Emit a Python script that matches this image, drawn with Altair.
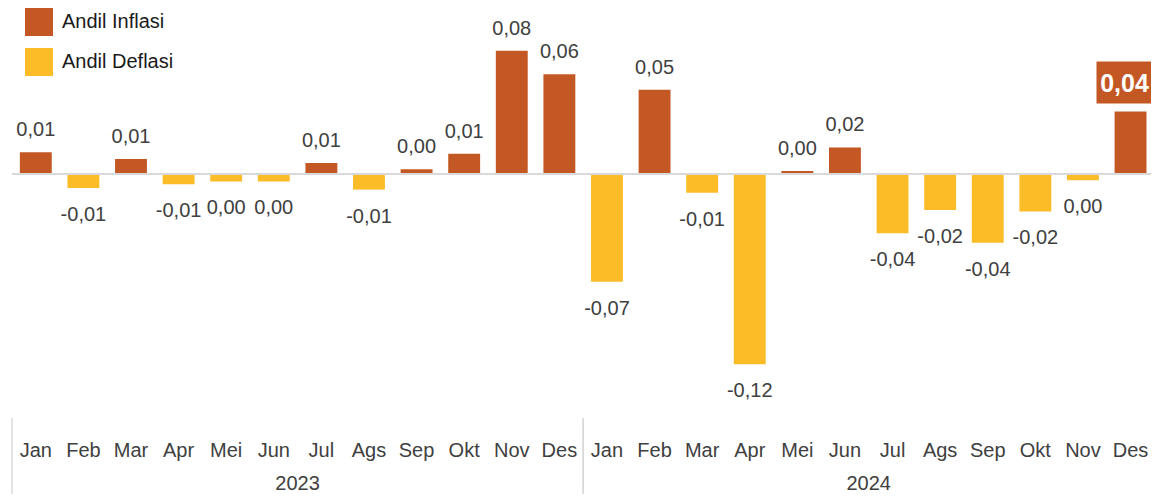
import altair as alt
import pandas as pd

months = ["Jan", "Feb", "Mar", "Apr", "Mei", "Jun", "Jul", "Ags", "Sep", "Okt", "Nov", "Des"]
years = ["2023", "2024"]
andil_2023 = [0.014, -0.009, 0.0096, -0.0065, -0.0048, -0.0048, 0.007, -0.010, 0.003, 0.013, 0.079, 0.064]
andil_2024 = [-0.069, 0.054, -0.012, -0.122, 0.002, 0.017, -0.038, -0.023, -0.044, -0.024, -0.004, 0.040]
series_names = ["Andil Inflasi", "Andil Deflasi"]
series_colors = ["#C45824", "#FBBC28"]

rows = []
for yi, (yr, vals) in enumerate(zip(years, [andil_2023, andil_2024])):
    for mi, (m, v) in enumerate(zip(months, vals)):
        rows.append({"i": yi * 12 + mi, "bulan": m, "tahun": yr, "v": v})
df = pd.DataFrame(rows)

F = "Liberation Sans, Arial, sans-serif"
TXT = "#404040"
W, H = 1139, 486
xs = alt.Scale(domain=[-0.5, 23.43], nice=False, zero=False)
ys = alt.Scale(domain=[-0.20513, 0.10641], nice=False, zero=False)

base = alt.Chart(df)

bars = base.transform_calculate(
    x1="datum.i - 0.335", x2="datum.i + 0.335",
    jenis="datum.v >= 0 ? 'Andil Inflasi' : 'Andil Deflasi'"
).mark_bar().encode(
    x=alt.X("x1:Q", scale=xs, axis=None),
    x2="x2:Q",
    y=alt.Y("v:Q", scale=ys, axis=None),
    y2=alt.datum(0),
    color=alt.Color("jenis:N", scale=alt.Scale(domain=series_names, range=series_colors),
                    legend=alt.Legend(orient="none", legendX=13, legendY=0, title=None,
                                      symbolType="square", symbolSize=784, symbolStrokeWidth=0,
                                      symbolOpacity=1, labelFontSize=20, labelFont=F,
                                      labelColor="#1a1a1a", rowPadding=12, labelOffset=9)),
)

zero = base.transform_aggregate(n="count()").mark_rule(color="#d9d9d9", strokeWidth=2).encode(
    y=alt.datum(0, scale=ys)
)

seps = base.transform_aggregate(a="min(i)", b="max(i)", groupby=["tahun"]).transform_calculate(
    lo="datum.a - 0.5", hi="datum.b + 0.5"
).transform_fold(["lo", "hi"]).mark_rule(color="#d9d9d9", strokeWidth=1.5).encode(
    x=alt.X("value:Q", scale=xs), y=alt.value(410), y2=alt.value(486)
)

month_txt = base.mark_text(fontSize=20, font=F, color=TXT, baseline="alphabetic").encode(
    x=alt.X("i:Q", scale=xs), y=alt.value(449), text="bulan:N"
)

year_txt = base.transform_aggregate(mid="mean(i)", groupby=["tahun"]).mark_text(
    fontSize=20, font=F, color=TXT, baseline="bottom"
).encode(x=alt.X("mid:Q", scale=xs), y=alt.value(486), text="tahun:N")

lab = base.transform_calculate(
    lbl="replace(replace(format(datum.v, '.2f'), '.', ','), '\u2212', '-')"
)
pos = lab.transform_filter("datum.v >= 0 && datum.i < 23").mark_text(
    fontSize=20, font=F, color=TXT, baseline="alphabetic", dy=-16
).encode(x=alt.X("i:Q", scale=xs), y=alt.Y("v:Q", scale=ys), text="lbl:N")
neg = lab.transform_filter("datum.v < 0").mark_text(
    fontSize=20, font=F, color=TXT, baseline="alphabetic", dy=33
).encode(x=alt.X("i:Q", scale=xs), y=alt.Y("v:Q", scale=ys), text="lbl:N")

last = lab.transform_filter("datum.i == 23")
box = last.mark_point(shape="M-1.43,-1H1.43V1H-1.43Z", size=1764, filled=True,
                      color="#C45824", opacity=1, strokeWidth=0, xOffset=-4, yOffset=-29).encode(
    x=alt.X("i:Q", scale=xs), y=alt.Y("v:Q", scale=ys)
)
box_txt = last.mark_text(fontSize=25, font=F, fontWeight="bold", color="white",
                         baseline="middle", dx=-6, dy=-28).encode(
    x=alt.X("i:Q", scale=xs), y=alt.Y("v:Q", scale=ys), text="lbl:N"
)

chart = alt.layer(bars, zero, seps, month_txt, year_txt, pos, neg, box, box_txt).properties(
    width=W, height=H,
    padding={"left": 4, "top": 0, "right": 0, "bottom": 0},
    autosize=alt.AutoSizeParams(type="none"),
).configure_view(stroke=None)

chart.save("out.html", embed_options={"renderer": "svg", "actions": False})
